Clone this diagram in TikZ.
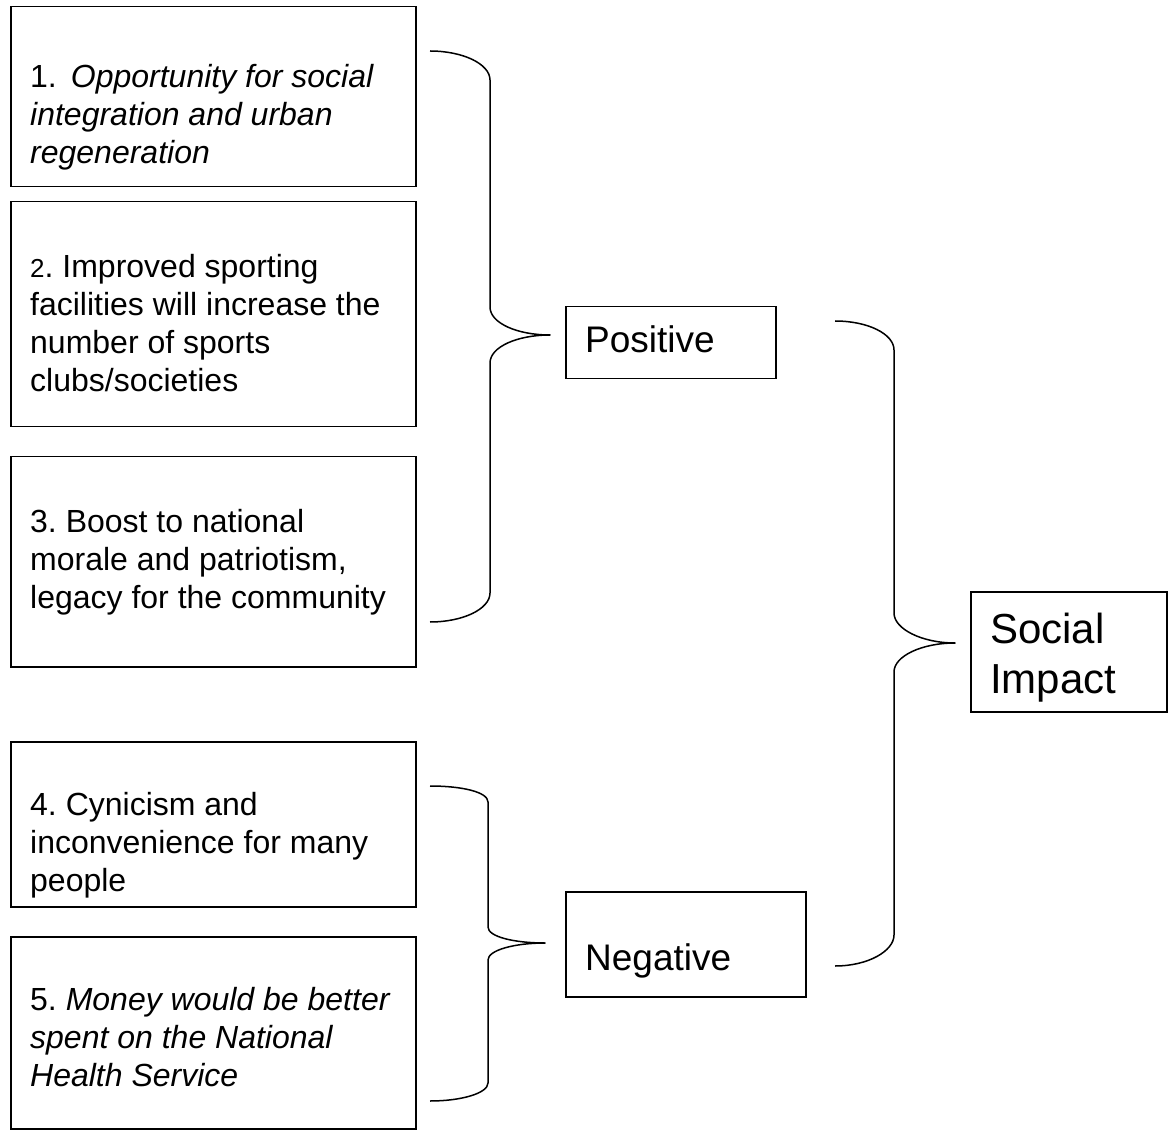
\documentclass[tikz,border=0pt]{standalone}
\usepackage{fontspec}
\setmainfont{Liberation Sans}
\frenchspacing
\begin{document}
\begin{tikzpicture}[x=1pt,y=-1pt,
  box/.style={draw, line width=1.5pt, rectangle, anchor=north west, inner sep=0pt},
  txt/.style={anchor=north west, inner sep=0pt, align=left, font=\fontsize{32}{38}\selectfont\frenchspacing},
  midtxt/.style={anchor=north west, inner sep=0pt, align=left, font=\fontsize{37}{44}\selectfont},
  bigtxt/.style={anchor=north west, inner sep=0pt, align=left, font=\fontsize{42}{50}\selectfont},
  brace/.style={line width=1.5pt, line join=round}]
\useasboundingbox (0,0) rectangle (1168,1131);

% left boxes
\node[box, minimum width=405pt, minimum height=180pt] (b1) at (10,6) {};
\node[box, minimum width=405pt, minimum height=225pt] (b2) at (10,201) {};
\node[box, minimum width=405pt, minimum height=210pt] (b3) at (10,456) {};
\node[box, minimum width=405pt, minimum height=165pt] (b4) at (10,741) {};
\node[box, minimum width=405pt, minimum height=192pt] (b5) at (10,936) {};

\node[txt] (t1) at (30,60.4) {\strut 1.\hspace{14pt}\textit{Opportunity for social}\\\textit{integration and urban}\\\textit{regeneration}};
\node[txt] (t2) at (30,250.4) {\strut{\fontsize{26}{38}\selectfont 2}. Improved sporting\\facilities will increase the\\number of sports\\clubs/societies};
\node[txt] (t3) at (30,505.4) {\strut 3. Boost to national\\morale and patriotism,\\legacy for the community};
\node[txt] (t4) at (30,788.4) {\strut 4. Cynicism and\\inconvenience for many\\people};
\node[txt] (t5) at (30,983.4) {\strut 5. \textit{Money would be better}\\\textit{spent on the National}\\\textit{Health Service}};

% middle boxes
\node[box, minimum width=210pt, minimum height=72pt] (pos) at (565,306) {};
\node[midtxt] (tpos) at (585,353) [anchor=base west] {Positive};
\node[box, minimum width=240pt, minimum height=105pt] (neg) at (565,891) {};
\node[midtxt] (tneg) at (585,970) [anchor=base west] {Negative};

% right box
\node[box, minimum width=196pt, minimum height=120pt] (soc) at (970,591) {};
\node[bigtxt] (tsoc1) at (990,643) [anchor=base west] {Social};
\node[bigtxt] (tsoc2) at (990,693) [anchor=base west] {Impact};

% brace coordinates
\coordinate (p1) at (430,51);
\coordinate (p2) at (430,622);
\coordinate (ptip) at (550,335);
\coordinate (n1) at (430,786);
\coordinate (n2) at (430,1101);
\coordinate (ntip) at (545,943);
\coordinate (s1) at (835,321);
\coordinate (s2) at (835,966);
\coordinate (stip) at (955,643);

% positive brace
\draw[brace] (p1) .. controls (463,51) and (490,64) .. (490,80) -- (490,307)
  .. controls (490,323) and (517,335) .. (ptip)
  .. controls (517,335) and (490,347) .. (490,363) -- (490,593)
  .. controls (490,609) and (463,622) .. (p2);

% negative brace
\draw[brace] (n1) .. controls (462,786) and (488,792) .. (488,802) -- (488,927)
  .. controls (488,937) and (515,943) .. (ntip)
  .. controls (515,943) and (488,950) .. (488,960) -- (488,1083)
  .. controls (488,1093) and (462,1101) .. (n2);

% social impact brace
\draw[brace] (s1) .. controls (868,321) and (894,334) .. (894,350) -- (894,613)
  .. controls (894,629) and (922,643) .. (stip)
  .. controls (922,643) and (894,656) .. (894,672) -- (894,935)
  .. controls (894,951) and (868,966) .. (s2);
\end{tikzpicture}
\end{document}
